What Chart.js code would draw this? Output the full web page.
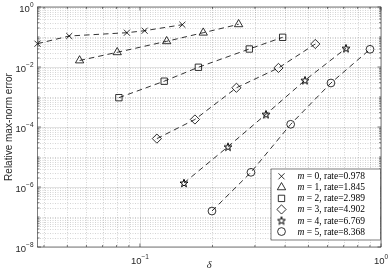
<!DOCTYPE html>
<html>
<head>
<meta charset="utf-8">
<script src="https://cdn.jsdelivr.net/npm/chart.js@4/dist/chart.umd.min.js"></script>
<style>
  html, body { margin: 0; padding: 0; background: #fff; }
  canvas { display: block; }
</style>
</head>
<body>
<canvas id="myChart" width="390" height="277"></canvas>
<script>
// values
const orders = [0, 1, 2, 3, 4, 5];
const rates = ['0.978', '1.845', '2.989', '4.902', '6.769', '8.368'];

const delta0 = [0.0376, 0.0509, 0.0883, 0.1046, 0.1500];
const err0   = [0.0598, 0.108, 0.139, 0.162, 0.257];
const delta1 = [0.0562, 0.0805, 0.1291, 0.1831, 0.2567];
const err1   = [0.0165, 0.0309, 0.0719, 0.139, 0.265];
const delta2 = [0.0818, 0.1261, 0.1748, 0.2842, 0.3909];
const err2   = [9.5e-4, 3.36e-3, 9.8e-3, 0.0398, 0.0977];
const delta3 = [0.1176, 0.1691, 0.2514, 0.3756, 0.5339];
const err3   = [4.1e-5, 1.78e-4, 2.03e-3, 9.3e-3, 0.0585];
const delta4 = [0.1523, 0.2318, 0.3333, 0.4838, 0.7157];
const err4   = [1.36e-6, 2.2e-5, 2.65e-4, 3.6e-3, 0.042];
const delta5 = [0.1990, 0.2888, 0.4220, 0.6200, 0.9002];
const err5   = [1.58e-7, 3.09e-6, 1.23e-4, 2.93e-3, 0.0389];

const xTickExps = [-1, 0];
const yTickExps = [0, -2, -4, -6, -8];

const axisColor = '#262626';

// MATLAB style pentagram, drawn once and used as a point image
function makeStar(size, lw) {
    const c = document.createElement('canvas');
    c.width = size; c.height = size;
    const g = c.getContext('2d');
    const cx = size / 2, cy = size / 2 + 0.4, ro = size / 2 - 0.8, ri = ro * 0.4;
    g.beginPath();
    for (let i = 0; i < 10; i++) {
        const r = i % 2 ? ri : ro;
        const a = -Math.PI / 2 + i * Math.PI / 5;
        const px = cx + r * Math.cos(a), py = cy + r * Math.sin(a);
        i ? g.lineTo(px, py) : g.moveTo(px, py);
    }
    g.closePath();
    g.lineWidth = lw;
    g.strokeStyle = '#000';
    g.stroke();
    return c;
}
const starCanvas = makeStar(10, 1);

const deltas = [delta0, delta1, delta2, delta3, delta4, delta5];
const errs = [err0, err1, err2, err3, err4, err5];
const markerStyles = ['crossRot', 'triangle', 'rect', 'rectRot', starCanvas, 'circle'];
const markerRadius = [4.3, 4.8, 4.5, 4.6, 5, 3.9];

const datasets = orders.map((m, i) => ({
    label: 'm = ' + m + ', rate=' + rates[i],
    data: deltas[i].map((d, j) => ({ x: d, y: errs[i][j] })),
    borderColor: '#000',
    borderWidth: 0.8,
    borderDash: [5.5, 4],
    pointStyle: markerStyles[i],
    pointRadius: markerRadius[i],
    pointBorderColor: '#000',
    pointBackgroundColor: 'rgba(0,0,0,0)',
    pointBorderWidth: 0.8,
    fill: false,
    tension: 0,
    clip: false
}));

function minorValues(lo, hi) {
    const out = [];
    for (let k = lo; k < hi; k++) {
        for (let m = 1; m <= 9; m++) out.push(m * Math.pow(10, k));
    }
    out.push(Math.pow(10, hi));
    return out;
}

function supLabel(ctx, exp, x, y, align) {
    const base = '10', sup = String(exp).replace('-', '\u2212');
    ctx.font = '9.5px "Liberation Sans", Arial, sans-serif';
    const wb = ctx.measureText(base).width;
    ctx.font = '6.5px "Liberation Sans", Arial, sans-serif';
    const ws = ctx.measureText(sup).width;
    let x0 = align === 'right' ? x - wb - ws : x - (wb + ws) / 2;
    ctx.textAlign = 'left';
    ctx.textBaseline = 'alphabetic';
    ctx.font = '9.5px "Liberation Sans", Arial, sans-serif';
    ctx.fillText(base, x0, y);
    ctx.font = '6.5px "Liberation Sans", Arial, sans-serif';
    ctx.fillText(sup, x0 + wb, y - 4.5);
}

const matlabAxes = {
    id: 'matlabAxes',
    beforeDatasetsDraw(chart) {
        const { ctx, chartArea: a, scales: { x, y } } = chart;
        ctx.save();
        ctx.lineWidth = 1;
        // minor grid, dotted
        ctx.strokeStyle = 'rgba(0,0,0,0.17)';
        ctx.setLineDash([1, 1.5]);
        minorValues(-2, 0).forEach(v => {
            if (v < x.min || Math.abs(Math.log10(v) % 1) < 1e-9) return;
            const px = Math.round(x.getPixelForValue(v)) + 0.5;
            ctx.beginPath(); ctx.moveTo(px, a.top); ctx.lineTo(px, a.bottom); ctx.stroke();
        });
        minorValues(-8, 0).forEach(v => {
            const e = Math.log10(v);
            if (Math.abs(e - Math.round(e)) < 1e-9 && Math.round(e) % 2 === 0) return;
            const py = Math.round(y.getPixelForValue(v)) + 0.5;
            ctx.beginPath(); ctx.moveTo(a.left, py); ctx.lineTo(a.right, py); ctx.stroke();
        });
        // major grid
        ctx.setLineDash([]);
        ctx.strokeStyle = 'rgba(0,0,0,0.11)';
        xTickExps.forEach(e => {
            const px = Math.round(x.getPixelForValue(Math.pow(10, e))) + 0.5;
            ctx.beginPath(); ctx.moveTo(px, a.top); ctx.lineTo(px, a.bottom); ctx.stroke();
        });
        yTickExps.forEach(e => {
            const py = Math.round(y.getPixelForValue(Math.pow(10, e))) + 0.5;
            ctx.beginPath(); ctx.moveTo(a.left, py); ctx.lineTo(a.right, py); ctx.stroke();
        });
        ctx.restore();
    },
    afterDatasetsDraw(chart) {
        const { ctx, chartArea: a, scales: { x, y } } = chart;
        ctx.save();
        ctx.strokeStyle = axisColor;
        ctx.lineWidth = 0.6;
        ctx.setLineDash([]);
        // ticks, inward on all four sides
        const tick = (x1, y1, x2, y2) => { ctx.beginPath(); ctx.moveTo(x1, y1); ctx.lineTo(x2, y2); ctx.stroke(); };
        minorValues(-2, 0).forEach(v => {
            if (v < x.min) return;
            const e = Math.log10(v);
            const len = Math.abs(e - Math.round(e)) < 1e-9 ? 3.5 : 2;
            const px = x.getPixelForValue(v);
            tick(px, a.bottom, px, a.bottom - len);
            tick(px, a.top, px, a.top + len);
        });
        minorValues(-8, 0).forEach(v => {
            const e = Math.log10(v);
            const major = Math.abs(e - Math.round(e)) < 1e-9 && Math.round(e) % 2 === 0;
            const len = major ? 3.5 : 2;
            const py = y.getPixelForValue(v);
            tick(a.left, py, a.left + len, py);
            tick(a.right, py, a.right - len, py);
        });
        // box
        ctx.strokeRect(a.left, a.top, a.right - a.left, a.bottom - a.top);

        // tick labels
        ctx.fillStyle = axisColor;
        xTickExps.forEach(e => supLabel(ctx, e, x.getPixelForValue(Math.pow(10, e)), 263.5, 'center'));
        yTickExps.forEach(e => supLabel(ctx, e, 33.5, y.getPixelForValue(Math.pow(10, e)) + 4.5, 'right'));

        // axis titles
        ctx.font = 'italic 10.5px "Liberation Serif", "DejaVu Serif", serif';
        ctx.textAlign = 'center';
        ctx.textBaseline = 'alphabetic';
        ctx.fillText('\u03b4', (a.left + a.right) / 2, 268);
        ctx.save();
        ctx.translate(11.5, (a.top + a.bottom) / 2);
        ctx.rotate(-Math.PI / 2);
        ctx.font = '10px "Liberation Sans", Arial, sans-serif';
        ctx.fillText('Relative max-norm error', 0, 0);
        ctx.restore();

        // legend box
        const lx = 271, ly = 169, lw = 109.5, lh = 71;
        ctx.fillStyle = '#fff';
        ctx.fillRect(lx, ly, lw, lh);
        ctx.lineWidth = 0.6;
        ctx.strokeStyle = axisColor;
        ctx.strokeRect(lx, ly, lw, lh);
        orders.forEach((m, i) => {
            const ry = 176.3 + i * 11.05;
            ctx.save();
            ctx.strokeStyle = '#000';
            ctx.fillStyle = 'rgba(0,0,0,0)';
            ctx.lineWidth = 0.8;
            Chart.helpers.drawPoint(ctx, {
                pointStyle: markerStyles[i], radius: markerRadius[i], rotation: 0, borderWidth: 0.8
            }, 281.5, ry);
            ctx.restore();
            ctx.fillStyle = '#000';
            ctx.textAlign = 'left';
            ctx.textBaseline = 'middle';
            ctx.font = 'italic 9.5px "Liberation Serif", "DejaVu Serif", serif';
            ctx.fillText('m', 297.5, ry + 0.5);
            const wm = ctx.measureText('m').width;
            ctx.font = '9.5px "Liberation Serif", "DejaVu Serif", serif';
            ctx.fillText(' = ' + m + ', rate=' + rates[i], 297.5 + wm, ry + 0.5);
        });
        ctx.restore();
    }
};

const ctx = document.getElementById('myChart').getContext('2d');
const myChart = new Chart(ctx, {
    type: 'line',
    data: { datasets: datasets },
    options: {
        responsive: false,
        animation: false,
        devicePixelRatio: 1,
        layout: { padding: { top: 7, right: 9, left: 0, bottom: 0 } },
        plugins: {
            legend: { display: false },
            tooltip: { enabled: false }
        },
        scales: {
            x: {
                type: 'logarithmic',
                min: 0.0376,
                max: 1,
                ticks: { display: false },
                grid: { display: false },
                border: { display: false },
                afterFit: function (scale) { scale.height = 30; }
            },
            y: {
                type: 'logarithmic',
                min: 1e-8,
                max: 1,
                ticks: { display: false },
                grid: { display: false },
                border: { display: false },
                afterFit: function (scale) { scale.width = 37.5; }
            }
        }
    },
    plugins: [matlabAxes]
});
</script>
</body>
</html>
